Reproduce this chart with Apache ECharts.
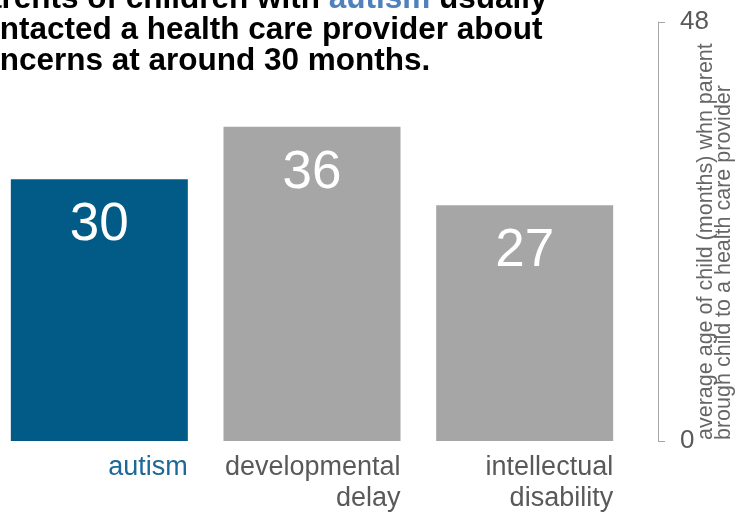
<!DOCTYPE html>
<html>
<head>
<meta charset="utf-8">
<script src="https://cdn.jsdelivr.net/npm/echarts@6/dist/echarts.min.js"></script>
<style>
html,body{margin:0;padding:0;background:#fff;}
#chart{width:737px;height:512px;}
</style>
</head>
<body>
<div id="chart"></div>
<script>
// ---- data ----
const categories = ['autism', 'developmental\ndelay', 'intellectual\ndisability'];
const values = [30, 36, 27];
const yTicks = [0, 48];
const highlightCategory = 'autism';
const titleLines = ['Parents of children with ', 'autism', ' usually', 'contacted a health care provider about', 'concerns at around 30 months.'];
const axisTitle = 'average age of child (months) whn parent\nbrough child to a health care provider';

const FONT = '"Liberation Sans", Arial, sans-serif';
const BLUE = '#025b86';
const GRAY = '#a6a6a6';

const chart = echarts.init(document.getElementById('chart'), null, {renderer: 'canvas'});

const titleText = '{b|' + titleLines[0] + '}{a|' + titleLines[1] + '}{b|' + titleLines[2] + '}\n{b|' + titleLines[3] + '}\n{b|' + titleLines[4] + '}';

const TS = 31.5;
const option = {
  backgroundColor: '#ffffff',
  animation: false,
  title: {
    text: titleText,
    left: -37,
    top: -16,
    padding: 0,
    textStyle: {
      fontFamily: FONT, fontSize: TS, fontWeight: 'bold', lineHeight: 31, color: '#000',
      rich: {
        a: {fontFamily: FONT, fontSize: TS, fontWeight: 'bold', lineHeight: 31, color: '#4f81bd'},
        b: {fontFamily: FONT, fontSize: TS, fontWeight: 'bold', lineHeight: 31, color: '#000'}
      }
    }
  },
  grid: {left: -7, top: 22, width: 638, height: 419, containLabel: false, outerBoundsMode: 'none'},
  xAxis: {
    type: 'category',
    data: categories,
    axisLine: {show: false},
    axisTick: {show: false},
    axisLabel: {
      margin: 11,
      interval: 0,
      formatter: function (v) {
        const key = v === highlightCategory ? 'hl' : 'n';
        return v.split('\n').map(s => '{' + key + '|' + s + '}').join('\n');
      },
      rich: {
        hl: {fontFamily: FONT, fontSize: 27, lineHeight: 31, color: '#1d6896', width: 177, align: 'right'},
        n: {fontFamily: FONT, fontSize: 27, lineHeight: 31, color: '#595959', width: 177, align: 'right'}
      }
    }
  },
  yAxis: {
    type: 'value',
    position: 'right',
    offset: 27,
    min: yTicks[0],
    max: yTicks[yTicks.length - 1],
    interval: yTicks[1] - yTicks[0],
    axisLine: {show: true, lineStyle: {color: '#a6a6a6', width: 1}},
    axisTick: {show: true, length: 7, lineStyle: {color: '#a6a6a6'}},
    splitLine: {show: false},
    axisLabel: {margin: 22, fontFamily: FONT, fontSize: 26, color: '#595959'}
  },
  graphic: [{
    type: 'text',
    x: 697,
    y: 440,
    rotation: Math.PI / 2,
    style: {
      text: axisTitle,
      fontFamily: FONT,
      fontSize: 21.5,
      lineHeight: 18,
      fill: '#666',
      align: 'left',
      verticalAlign: 'top'
    }
  }],
  series: [{
    type: 'bar',
    data: values,
    barWidth: 177,
    itemStyle: {
      color: function (p) { return categories[p.dataIndex] === highlightCategory ? BLUE : GRAY; }
    },
    label: {
      show: true,
      position: 'insideTop',
      distance: 20,
      color: '#fff',
      fontFamily: FONT,
      fontSize: 53
    }
  }]
};
chart.setOption(option);
</script>
</body>
</html>
